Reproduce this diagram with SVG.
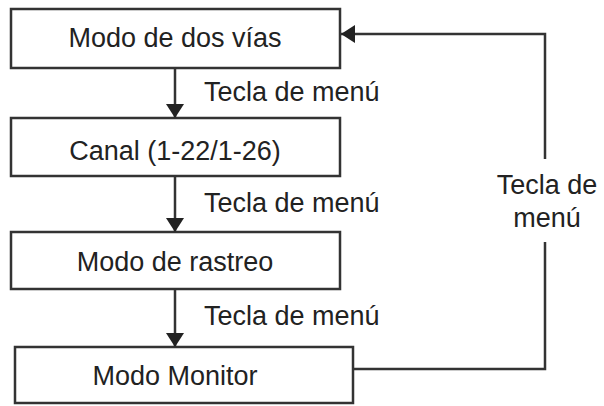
<svg xmlns="http://www.w3.org/2000/svg" width="604" height="406" viewBox="0 0 604 406">
<style>
.box{fill:#fff;stroke:#333;stroke-width:2.5}
.t{font-family:"Liberation Sans",Arial,sans-serif;font-size:27px;fill:#222}
.c{text-anchor:middle}
.ln{stroke:#333;stroke-width:2.5;fill:none}
</style>
<defs>
<marker id="ah2" markerWidth="14" markerHeight="18" refX="14" refY="9" orient="auto" markerUnits="userSpaceOnUse" viewBox="0 0 14 18"><path d="M0,0 L14,9 L0,18 z" fill="#222"/></marker></defs>
<rect width="604" height="406" fill="#fff"/>
<g id="n1"><rect class="box" x="11" y="9" width="329" height="59"/><text class="t c" x="175" y="47">Modo de dos vías</text></g>
<g id="n2"><rect class="box" x="11" y="118" width="329" height="58"/><text class="t c" x="175" y="160">Canal (1-22/1-26)</text></g>
<g id="n3"><rect class="box" x="11" y="232" width="329" height="57"/><text class="t c" x="175" y="271">Modo de rastreo</text></g>
<g id="n4"><rect class="box" x="15" y="347" width="338" height="56"/><text class="t c" x="175" y="385">Modo Monitor</text></g>
<g id="connectors">
<line class="ln" x1="175" y1="68" x2="175" y2="118" marker-end="url(#ah2)"/>
<line class="ln" x1="175" y1="176" x2="175" y2="232" marker-end="url(#ah2)"/>
<line class="ln" x1="175" y1="289" x2="175" y2="347" marker-end="url(#ah2)"/>
<polyline class="ln" points="353,369 545,369 545,242"/>
<polyline class="ln" points="545,159 545,34 341,34" marker-end="url(#ah2)"/>
</g>
<g id="labels">
<text class="t" x="204" y="101">Tecla de menú</text>
<text class="t" x="204" y="212">Tecla de menú</text>
<text class="t" x="204" y="325">Tecla de menú</text>
<text class="t c" x="547" y="194">Tecla de</text>
<text class="t c" x="547" y="227">menú</text>
</g>
</svg>
